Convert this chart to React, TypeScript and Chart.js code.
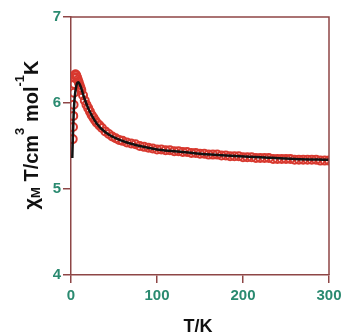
import React, { useEffect, useRef } from 'react';
import { Chart, registerables } from 'chart.js';
Chart.register(...registerables);

const expT = [2, 2.3, 2.6, 3, 3.5, 4, 4.5, 5, 5.5, 6, 7, 8, 9, 10, 11, 12, 14, 16, 18, 20, 22, 24, 26, 28, 30, 33, 36, 40, 44, 48, 52, 56, 60, 65, 70, 75, 80, 85, 90, 95,
  100, 105, 110, 115, 120, 125, 130, 135, 140, 145, 150, 155, 160, 165, 170, 175, 180, 185, 190, 195, 200,
  205, 210, 215, 220, 225, 230, 235, 240, 245, 250, 255, 260, 265, 270, 275, 280, 285, 290, 295, 300];
const expChi = [5.58, 5.72, 5.85, 5.98, 6.12, 6.22, 6.29, 6.33, 6.33, 6.32, 6.3, 6.27, 6.24, 6.21, 6.18, 6.15, 6.09, 6.03, 5.98, 5.94, 5.9, 5.86, 5.83, 5.8, 5.77, 5.74, 5.71, 5.67, 5.64, 5.61, 5.59, 5.57, 5.56, 5.54, 5.53, 5.52, 5.5, 5.49, 5.48, 5.47,
  5.46, 5.46, 5.45, 5.45, 5.44, 5.44, 5.43, 5.43, 5.42, 5.42, 5.41, 5.41, 5.4, 5.4, 5.4, 5.39, 5.39, 5.38, 5.38, 5.38, 5.37,
  5.37, 5.37, 5.36, 5.36, 5.36, 5.36, 5.35, 5.35, 5.35, 5.35, 5.35, 5.34, 5.34, 5.34, 5.34, 5.34, 5.34, 5.33, 5.33, 5.33];

const fitT = [1.5, 2, 3, 4, 5, 6, 7, 8.5, 10, 12, 15, 20, 25, 30, 40, 50, 65, 80, 100, 120, 150, 180, 220, 260, 300];
const fitChi = [5.36, 5.55, 5.85, 6.03, 6.13, 6.19, 6.23, 6.24, 6.22, 6.17, 6.07, 5.94, 5.84, 5.76, 5.66, 5.6, 5.54, 5.5, 5.46, 5.44, 5.41, 5.39, 5.37, 5.35, 5.34];

const xRange = [0, 300];
const yRange = [4, 7];
const xStep = 100;
const yStep = 1;

const xTitle = 'T/K';
const yTitleParts = [
  { t: 'χ', kind: 'main' },
  { t: 'M', kind: 'sub' },
  { t: ' T/cm', kind: 'main' },
  { t: '3', kind: 'sup' },
  { t: ' mol', kind: 'main' },
  { t: '-1', kind: 'sup' },
  { t: 'K', kind: 'main' },
];

const FRAME = '#8e4646';
const TICKTXT = '#2a8a70';
const FONT = '"Liberation Sans", Arial, sans-serif';

export default function App() {
  const ref = useRef<HTMLCanvasElement>(null);
  useEffect(() => {
    const titles = {
      id: 'titles',
      afterDraw(chart: any) {
        const ctx = chart.ctx;
        const ca = chart.chartArea;
        ctx.save();
        ctx.strokeStyle = FRAME;
        ctx.lineWidth = 1.5;
        ctx.beginPath();
        ctx.moveTo(ca.left, ca.top);
        ctx.lineTo(ca.right, ca.top);
        ctx.lineTo(ca.right, ca.bottom);
        ctx.stroke();
        ctx.fillStyle = '#111';
        ctx.font = 'bold 18px ' + FONT;
        ctx.textAlign = 'center';
        ctx.textBaseline = 'alphabetic';
        ctx.fillText(xTitle, 198, 332);
        const fonts: any = {
          main: 'bold 20px ' + FONT,
          sub: 'bold 13px ' + FONT,
          sup: 'bold 13px ' + FONT,
        };
        const dy: any = { main: 0, sub: 2, sup: -14 };
        let total = 0;
        const widths = yTitleParts.map((p) => {
          ctx.font = fonts[p.kind];
          const w = ctx.measureText(p.t).width;
          total += w;
          return w;
        });
        ctx.translate(38, 135);
        ctx.rotate(-Math.PI / 2);
        ctx.textAlign = 'left';
        let x = -total / 2;
        yTitleParts.forEach((p, i) => {
          ctx.font = fonts[p.kind];
          ctx.fillText(p.t, x, dy[p.kind]);
          x += widths[i];
        });
        ctx.restore();
      },
    };

    const axisCommon = {
      type: 'linear' as const,
      grid: { drawOnChartArea: false, tickLength: 8, color: FRAME, lineWidth: 1.5 },
      border: { color: FRAME, width: 1.5 },
    };

    const chart = new Chart(ref.current!, {
      type: 'scatter',
      data: {
        datasets: [
          {
            label: 'fit',
            data: fitT.map((t, i) => ({ x: t, y: fitChi[i] })),
            showLine: true,
            borderColor: '#111',
            borderWidth: 2.5,
            pointRadius: 0,
            cubicInterpolationMode: 'monotone',
            order: 0,
          },
          {
            label: 'exp',
            data: expT.map((t, i) => ({ x: t, y: expChi[i] })),
            showLine: false,
            borderColor: '#d8392f',
            backgroundColor: 'rgba(255,255,255,0)',
            pointRadius: 4,
            pointBorderWidth: 2,
            order: 1,
          },
        ],
      },
      options: {
        animation: false,
        responsive: false,
        layout: { padding: { top: 17, right: 17, left: 0, bottom: 0 } },
        plugins: { legend: { display: false }, tooltip: { enabled: false } },
        scales: {
          x: {
            ...axisCommon,
            min: xRange[0],
            max: xRange[1],
            ticks: { stepSize: xStep, color: TICKTXT, font: { size: 15, weight: 'bold', family: FONT }, padding: 4, maxRotation: 0 },
            afterFit: (s: any) => { s.height = 60; },
          },
          y: {
            ...axisCommon,
            min: yRange[0],
            max: yRange[1],
            ticks: { stepSize: yStep, color: TICKTXT, font: { size: 15, weight: 'bold', family: FONT }, padding: 2 },
            afterFit: (s: any) => { s.width = 71; },
          },
        },
      },
      plugins: [titles],
    });
    return () => chart.destroy();
  }, []);
  return (
    <div style={{ position: 'absolute', left: 0, top: 0, width: 346, height: 335, background: '#fff' }}>
      <canvas ref={ref} width={346} height={335} />
    </div>
  );
}
